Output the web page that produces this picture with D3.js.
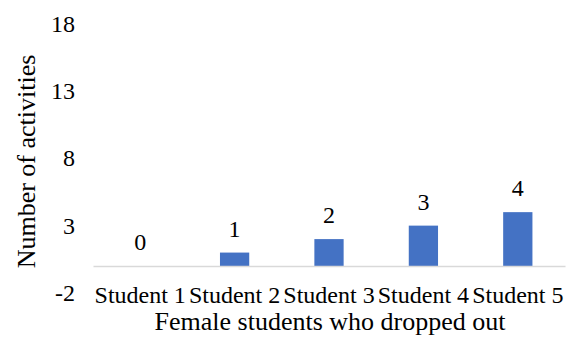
<!DOCTYPE html>
<html>
<head>
<meta charset="utf-8">
<script src="https://cdn.jsdelivr.net/npm/d3@7"></script>
<style>
  html, body { margin: 0; padding: 0; background: #fff; }
  svg { display: block; }
  svg text { font-family: "Liberation Serif", "Times New Roman", serif !important; fill: #000; }
</style>
</head>
<body>
<svg id="chart" width="574" height="338"></svg>
<script>
// Activities per student who dropped out
const categories = ["Student 1", "Student 2", "Student 3", "Student 4", "Student 5"];
const values = [0, 1, 2, 3, 4];
const yTicks = [-2, 3, 8, 13, 18];
const xTitle = "Female students who dropped out";
const yTitle = "Number of activities";

const svg = d3.select("#chart");
const plot = { left: 93, right: 565, top: 23.5, bottom: 293 };

const x = d3.scaleBand()
  .domain(categories)
  .range([plot.left, plot.right])
  .paddingInner(0.69)
  .paddingOuter(0.345);

const y = d3.scaleLinear()
  .domain([-2, 18])
  .range([plot.bottom, plot.top]);

// Value axis: labels only, no line or tick marks
const yAxis = svg.append("g")
  .attr("transform", `translate(${plot.left - 18},0)`)
  .call(d3.axisLeft(y).tickValues(yTicks).tickSize(0).tickPadding(0).tickFormat(d => String(d)));
yAxis.select(".domain").remove();
yAxis.selectAll("text")
  .attr("font-size", 24);

// Bars
svg.append("g")
  .selectAll("rect")
  .data(values)
  .join("rect")
  .attr("x", (d, i) => x(categories[i]))
  .attr("width", x.bandwidth())
  .attr("y", d => y(Math.max(0, d)))
  .attr("height", d => Math.abs(y(d) - y(0)))
  .attr("fill", "#4472C4");

// Category axis along zero
const xAxis = svg.append("g")
  .attr("transform", `translate(0,${y(0)})`)
  .call(d3.axisBottom(x).tickSize(0).tickPadding(0));
xAxis.select(".domain")
  .attr("stroke", "#D9D9D9")
  .attr("stroke-width", 1.5);
xAxis.selectAll("text")
  .attr("font-size", 24)
  .attr("dy", "0")
  .attr("y", 37);

// Value labels above bars
svg.append("g")
  .selectAll("text")
  .data(values)
  .join("text")
  .attr("x", (d, i) => x(categories[i]) + x.bandwidth() / 2)
  .attr("y", d => y(d) - 16)
  .attr("text-anchor", "middle")
  .attr("font-size", 24)
  .text(d => d);

// Axis titles
svg.append("text")
  .attr("x", (plot.left + plot.right) / 2 + 1)
  .attr("y", 330)
  .attr("text-anchor", "middle")
  .attr("font-size", 26)
  .text(xTitle);

svg.append("text")
  .attr("transform", `translate(35,${(48 + 275) / 2}) rotate(-90)`)
  .attr("text-anchor", "middle")
  .attr("font-size", 26)
  .text(yTitle);
</script>
</body>
</html>
